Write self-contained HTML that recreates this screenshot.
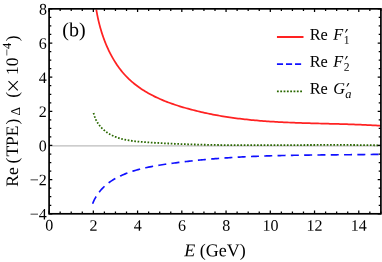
<!DOCTYPE html>
<html><head><meta charset="utf-8"><style>
html,body{margin:0;padding:0;background:#fff;}
svg{display:block;will-change:transform;text-rendering:geometricPrecision;font-family:"Liberation Serif",serif;}
</style></head><body>
<svg width="382" height="262" viewBox="0 0 382 262">
<rect width="382" height="262" fill="#fff"/>
<line x1="49.1" x2="380.9" y1="145.83" y2="145.83" stroke="#bcbcbc" stroke-width="1.3"/>
<g fill="none" stroke-width="2" stroke-linejoin="round">
<path d="M96.33,9.38 L96.60,10.99 L96.89,12.62 L97.19,14.25 L97.51,15.88 L97.86,17.52 L98.22,19.16 L98.59,20.80 L98.99,22.45 L99.40,24.10 L99.83,25.74 L100.29,27.39 L100.76,29.04 L101.25,30.68 L101.75,32.32 L102.28,33.96 L102.83,35.59 L103.40,37.22 L103.99,38.84 L104.59,40.46 L105.22,42.07 L105.87,43.67 L106.54,45.27 L107.23,46.85 L107.94,48.42 L108.67,49.99 L109.42,51.54 L110.20,53.08 L110.99,54.60 L111.81,56.12 L112.65,57.62 L113.51,59.10 L114.40,60.56 L115.30,62.01 L116.23,63.45 L117.18,64.86 L118.16,66.26 L119.16,67.63 L120.18,68.99 L121.22,70.32 L122.29,71.63 L123.38,72.92 L124.50,74.19 L125.64,75.43 L126.80,76.65 L127.99,77.84 L129.20,79.01 L130.43,80.15 L131.69,81.26 L132.97,82.35 L134.27,83.42 L135.59,84.47 L136.93,85.49 L138.29,86.49 L139.67,87.46 L141.06,88.42 L142.48,89.35 L143.90,90.26 L145.35,91.15 L146.81,92.01 L148.28,92.86 L149.77,93.69 L151.27,94.49 L152.79,95.28 L154.31,96.05 L155.85,96.80 L157.39,97.53 L158.95,98.24 L160.52,98.93 L162.09,99.61 L163.67,100.27 L165.26,100.91 L166.86,101.54 L168.46,102.15 L170.07,102.74 L171.68,103.32 L173.30,103.88 L174.92,104.43 L176.55,104.97 L178.18,105.49 L179.81,106.00 L181.45,106.50 L183.09,106.99 L184.74,107.47 L186.39,107.93 L188.04,108.39 L189.69,108.84 L191.34,109.28 L193.00,109.71 L194.65,110.13 L196.31,110.54 L197.97,110.95 L199.63,111.35 L201.29,111.74 L202.95,112.12 L204.62,112.49 L206.28,112.86 L207.95,113.21 L209.62,113.56 L211.29,113.89 L212.95,114.22 L214.63,114.54 L216.30,114.85 L217.97,115.16 L219.65,115.45 L221.32,115.74 L223.00,116.02 L224.68,116.29 L226.35,116.56 L228.03,116.82 L229.71,117.07 L231.40,117.31 L233.08,117.54 L234.76,117.77 L236.45,117.99 L238.13,118.21 L239.82,118.42 L241.50,118.62 L243.19,118.82 L244.88,119.01 L246.57,119.19 L248.26,119.37 L249.95,119.54 L251.64,119.71 L253.34,119.87 L255.03,120.03 L256.72,120.18 L258.42,120.32 L260.11,120.46 L261.81,120.60 L263.50,120.73 L265.20,120.85 L266.90,120.98 L268.60,121.09 L270.30,121.21 L271.99,121.32 L273.69,121.42 L275.39,121.52 L277.10,121.62 L278.80,121.71 L280.50,121.80 L282.20,121.89 L283.90,121.97 L285.60,122.05 L287.31,122.13 L289.01,122.20 L290.71,122.28 L292.42,122.35 L294.12,122.41 L295.83,122.48 L297.53,122.54 L299.24,122.60 L300.94,122.66 L302.65,122.71 L304.35,122.77 L306.06,122.82 L307.76,122.87 L309.47,122.92 L311.18,122.97 L312.88,123.02 L314.59,123.07 L316.29,123.11 L318.00,123.16 L319.71,123.20 L321.41,123.25 L323.12,123.29 L324.82,123.33 L326.53,123.38 L328.24,123.42 L329.94,123.47 L331.65,123.51 L333.35,123.55 L335.06,123.60 L336.76,123.65 L338.47,123.69 L340.17,123.74 L341.88,123.79 L343.58,123.84 L345.29,123.89 L346.99,123.94 L348.69,124.00 L350.39,124.05 L352.10,124.11 L353.80,124.17 L355.50,124.23 L357.20,124.30 L358.90,124.36 L360.60,124.43 L362.30,124.50 L364.00,124.58 L365.70,124.65 L367.40,124.73 L369.10,124.82 L370.80,124.90 L372.49,124.99 L374.19,125.08 L375.88,125.18 L377.58,125.28 L379.27,125.39 L380.97,125.49" stroke="#ff2222" stroke-width="1.75" transform="translate(0,0.3)"/>
<path d="M92.33,203.29 L92.96,201.75 L93.63,200.26 L94.34,198.81 L95.09,197.41 L95.89,196.05 L96.71,194.73 L97.58,193.45 L98.48,192.22 L99.41,191.02 L100.38,189.86 L101.38,188.74 L102.41,187.66 L103.46,186.61 L104.55,185.60 L105.66,184.62 L106.80,183.68 L107.97,182.76 L109.16,181.88 L110.37,181.03 L111.60,180.21 L112.86,179.42 L114.13,178.66 L115.42,177.93 L116.73,177.22 L118.05,176.54 L119.39,175.88 L120.75,175.25 L122.11,174.63 L123.49,174.05 L124.88,173.48 L126.28,172.93 L127.69,172.40 L129.10,171.89 L130.53,171.41 L131.96,170.93 L133.40,170.48 L134.85,170.04 L136.31,169.62 L137.77,169.22 L139.24,168.83 L140.72,168.45 L142.20,168.09 L143.69,167.74 L145.18,167.40 L146.68,167.08 L148.18,166.77 L149.68,166.47 L151.19,166.17 L152.70,165.89 L154.21,165.62 L155.73,165.35 L157.25,165.09 L158.77,164.84 L160.29,164.60 L161.81,164.36 L163.34,164.13 L164.86,163.90 L166.38,163.68 L167.91,163.46 L169.43,163.24 L170.95,163.03 L172.47,162.82 L173.99,162.61 L175.51,162.41 L177.03,162.21 L178.55,162.01 L180.07,161.82 L181.59,161.63 L183.11,161.45 L184.63,161.27 L186.15,161.09 L187.67,160.91 L189.19,160.74 L190.71,160.57 L192.22,160.41 L193.74,160.25 L195.26,160.09 L196.78,159.93 L198.29,159.78 L199.81,159.63 L201.33,159.48 L202.84,159.34 L204.36,159.20 L205.87,159.06 L207.39,158.92 L208.90,158.79 L210.42,158.66 L211.93,158.54 L213.45,158.41 L214.96,158.29 L216.48,158.17 L217.99,158.06 L219.51,157.94 L221.02,157.83 L222.53,157.72 L224.05,157.62 L225.56,157.51 L227.08,157.41 L228.59,157.32 L230.10,157.22 L231.62,157.13 L233.13,157.03 L234.64,156.95 L236.15,156.86 L237.67,156.77 L239.18,156.69 L240.69,156.61 L242.21,156.53 L243.72,156.46 L245.23,156.38 L246.74,156.31 L248.26,156.24 L249.77,156.17 L251.28,156.11 L252.79,156.04 L254.31,155.98 L255.82,155.92 L257.33,155.86 L258.84,155.80 L260.36,155.75 L261.87,155.69 L263.38,155.64 L264.90,155.59 L266.41,155.54 L267.92,155.49 L269.43,155.45 L270.95,155.40 L272.46,155.36 L273.97,155.32 L275.49,155.28 L277.00,155.24 L278.51,155.20 L280.03,155.17 L281.54,155.13 L283.05,155.10 L284.57,155.06 L286.08,155.03 L287.60,155.00 L289.11,154.97 L290.62,154.94 L292.14,154.92 L293.65,154.89 L295.17,154.86 L296.68,154.84 L298.20,154.82 L299.71,154.79 L301.23,154.77 L302.75,154.75 L304.26,154.73 L305.78,154.71 L307.30,154.69 L308.81,154.67 L310.33,154.65 L311.85,154.64 L313.36,154.62 L314.88,154.60 L316.40,154.59 L317.92,154.57 L319.44,154.56 L320.95,154.54 L322.47,154.53 L323.99,154.52 L325.51,154.50 L327.03,154.49 L328.55,154.48 L330.07,154.46 L331.59,154.45 L333.12,154.44 L334.64,154.43 L336.16,154.41 L337.68,154.40 L339.20,154.39 L340.73,154.37 L342.25,154.36 L343.77,154.35 L345.30,154.34 L346.82,154.32 L348.35,154.31 L349.87,154.30 L351.40,154.28 L352.92,154.27 L354.45,154.25 L355.98,154.24 L357.50,154.22 L359.03,154.21 L360.56,154.19 L362.09,154.17 L363.62,154.16 L365.15,154.14 L366.68,154.12 L368.21,154.10 L369.74,154.08 L371.27,154.06 L372.80,154.04 L374.33,154.02 L375.87,153.99 L377.40,153.97 L378.93,153.94 L380.47,153.92" stroke="#1010ff" stroke-dasharray="8 5.3" stroke-width="1.65" transform="translate(0.3,0.4)"/>
<path d="M93.03,112.60 L93.50,114.28 L94.03,115.89 L94.62,117.43 L95.27,118.92 L95.98,120.34 L96.75,121.70 L97.57,123.00 L98.43,124.25 L99.35,125.43 L100.31,126.57 L101.31,127.65 L102.36,128.67 L103.44,129.65 L104.56,130.57 L105.71,131.44 L106.89,132.27 L108.10,133.05 L109.33,133.78 L110.59,134.47 L111.87,135.11 L113.17,135.71 L114.50,136.28 L115.84,136.80 L117.20,137.29 L118.58,137.74 L119.97,138.16 L121.38,138.55 L122.81,138.91 L124.25,139.24 L125.70,139.54 L127.16,139.82 L128.64,140.08 L130.12,140.31 L131.62,140.52 L133.12,140.72 L134.63,140.89 L136.14,141.06 L137.66,141.20 L139.19,141.34 L140.72,141.47 L142.25,141.59 L143.78,141.70 L145.31,141.80 L146.85,141.91 L148.38,142.01 L149.91,142.10 L151.44,142.20 L152.97,142.29 L154.50,142.39 L156.02,142.48 L157.55,142.56 L159.08,142.65 L160.60,142.73 L162.12,142.81 L163.65,142.89 L165.17,142.97 L166.69,143.04 L168.21,143.12 L169.73,143.19 L171.25,143.26 L172.77,143.32 L174.28,143.39 L175.80,143.45 L177.31,143.52 L178.83,143.58 L180.34,143.63 L181.85,143.69 L183.37,143.75 L184.88,143.80 L186.39,143.85 L187.90,143.90 L189.41,143.95 L190.92,144.00 L192.43,144.04 L193.93,144.08 L195.44,144.13 L196.95,144.17 L198.45,144.21 L199.96,144.24 L201.46,144.28 L202.96,144.32 L204.47,144.35 L205.97,144.38 L207.47,144.41 L208.97,144.44 L210.48,144.47 L211.98,144.50 L213.48,144.52 L214.98,144.55 L216.48,144.57 L217.98,144.59 L219.47,144.61 L220.97,144.63 L222.47,144.65 L223.97,144.67 L225.46,144.68 L226.96,144.70 L228.46,144.71 L229.95,144.73 L231.45,144.74 L232.94,144.75 L234.44,144.76 L235.93,144.77 L237.43,144.78 L238.92,144.79 L240.42,144.79 L241.91,144.80 L243.40,144.80 L244.90,144.81 L246.39,144.81 L247.88,144.82 L249.37,144.82 L250.87,144.82 L252.36,144.82 L253.85,144.82 L255.34,144.82 L256.84,144.82 L258.33,144.82 L259.82,144.82 L261.31,144.81 L262.80,144.81 L264.29,144.81 L265.79,144.80 L267.28,144.80 L268.77,144.80 L270.26,144.79 L271.75,144.79 L273.24,144.78 L274.74,144.77 L276.23,144.77 L277.72,144.76 L279.21,144.75 L280.70,144.75 L282.20,144.74 L283.69,144.73 L285.18,144.72 L286.67,144.72 L288.17,144.71 L289.66,144.70 L291.15,144.69 L292.65,144.68 L294.14,144.68 L295.63,144.67 L297.13,144.66 L298.62,144.65 L300.12,144.64 L301.61,144.64 L303.11,144.63 L304.60,144.62 L306.10,144.61 L307.59,144.61 L309.09,144.60 L310.59,144.59 L312.08,144.59 L313.58,144.58 L315.08,144.57 L316.58,144.57 L318.08,144.56 L319.58,144.56 L321.08,144.55 L322.58,144.55 L324.08,144.55 L325.58,144.54 L327.08,144.54 L328.58,144.54 L330.08,144.54 L331.59,144.54 L333.09,144.54 L334.60,144.54 L336.10,144.54 L337.61,144.54 L339.11,144.54 L340.62,144.54 L342.13,144.55 L343.63,144.55 L345.14,144.56 L346.65,144.56 L348.16,144.57 L349.67,144.57 L351.18,144.58 L352.70,144.59 L354.21,144.60 L355.72,144.61 L357.24,144.63 L358.75,144.64 L360.27,144.65 L361.78,144.67 L363.30,144.68 L364.82,144.70 L366.34,144.72 L367.86,144.74 L369.38,144.76 L370.90,144.78 L372.42,144.80 L373.95,144.83 L375.47,144.85 L377.00,144.88 L378.52,144.90 L380.05,144.93" stroke="#2a6800" stroke-dasharray="1.65 1.67" stroke-width="1.8" transform="translate(0.5,0.4)"/>
<path d="M276.95,37 H303.5" stroke="#ff2222"/>
<path d="M276.95,64.15 H301.2" stroke="#1010ff" stroke-dasharray="6.1 2.94" stroke-width="1.85"/>
<path d="M276.95,91.3 H302.1" stroke="#2a6800" stroke-dasharray="1.8 1.52" stroke-width="1.75"/>
</g>
<g stroke="#000" stroke-width="1.25" fill="none"><path d="M49.10,213.8 v-3.2 M49.10,8.85 v3.2"/><path d="M60.16,213.8 v-2.2 M60.16,8.85 v2.2"/><path d="M71.22,213.8 v-2.2 M71.22,8.85 v2.2"/><path d="M82.28,213.8 v-2.2 M82.28,8.85 v2.2"/><path d="M93.34,213.8 v-3.2 M93.34,8.85 v3.2"/><path d="M104.40,213.8 v-2.2 M104.40,8.85 v2.2"/><path d="M115.46,213.8 v-2.2 M115.46,8.85 v2.2"/><path d="M126.52,213.8 v-2.2 M126.52,8.85 v2.2"/><path d="M137.58,213.8 v-3.2 M137.58,8.85 v3.2"/><path d="M148.64,213.8 v-2.2 M148.64,8.85 v2.2"/><path d="M159.70,213.8 v-2.2 M159.70,8.85 v2.2"/><path d="M170.76,213.8 v-2.2 M170.76,8.85 v2.2"/><path d="M181.82,213.8 v-3.2 M181.82,8.85 v3.2"/><path d="M192.88,213.8 v-2.2 M192.88,8.85 v2.2"/><path d="M203.94,213.8 v-2.2 M203.94,8.85 v2.2"/><path d="M215.00,213.8 v-2.2 M215.00,8.85 v2.2"/><path d="M226.06,213.8 v-3.2 M226.06,8.85 v3.2"/><path d="M237.12,213.8 v-2.2 M237.12,8.85 v2.2"/><path d="M248.18,213.8 v-2.2 M248.18,8.85 v2.2"/><path d="M259.24,213.8 v-2.2 M259.24,8.85 v2.2"/><path d="M270.30,213.8 v-3.2 M270.30,8.85 v3.2"/><path d="M281.36,213.8 v-2.2 M281.36,8.85 v2.2"/><path d="M292.42,213.8 v-2.2 M292.42,8.85 v2.2"/><path d="M303.48,213.8 v-2.2 M303.48,8.85 v2.2"/><path d="M314.54,213.8 v-3.2 M314.54,8.85 v3.2"/><path d="M325.60,213.8 v-2.2 M325.60,8.85 v2.2"/><path d="M336.66,213.8 v-2.2 M336.66,8.85 v2.2"/><path d="M347.72,213.8 v-2.2 M347.72,8.85 v2.2"/><path d="M358.78,213.8 v-3.2 M358.78,8.85 v3.2"/><path d="M369.84,213.8 v-2.2 M369.84,8.85 v2.2"/><path d="M380.90,213.8 v-2.2 M380.90,8.85 v2.2"/><path d="M49.1,213.80 h3.2 M380.9,213.80 h-3.2"/><path d="M49.1,205.26 h2.2 M380.9,205.26 h-2.2"/><path d="M49.1,196.72 h2.2 M380.9,196.72 h-2.2"/><path d="M49.1,188.18 h2.2 M380.9,188.18 h-2.2"/><path d="M49.1,179.64 h3.2 M380.9,179.64 h-3.2"/><path d="M49.1,171.10 h2.2 M380.9,171.10 h-2.2"/><path d="M49.1,162.56 h2.2 M380.9,162.56 h-2.2"/><path d="M49.1,154.02 h2.2 M380.9,154.02 h-2.2"/><path d="M49.1,145.48 h3.2 M380.9,145.48 h-3.2"/><path d="M49.1,136.94 h2.2 M380.9,136.94 h-2.2"/><path d="M49.1,128.40 h2.2 M380.9,128.40 h-2.2"/><path d="M49.1,119.86 h2.2 M380.9,119.86 h-2.2"/><path d="M49.1,111.32 h3.2 M380.9,111.32 h-3.2"/><path d="M49.1,102.79 h2.2 M380.9,102.79 h-2.2"/><path d="M49.1,94.25 h2.2 M380.9,94.25 h-2.2"/><path d="M49.1,85.71 h2.2 M380.9,85.71 h-2.2"/><path d="M49.1,77.17 h3.2 M380.9,77.17 h-3.2"/><path d="M49.1,68.63 h2.2 M380.9,68.63 h-2.2"/><path d="M49.1,60.09 h2.2 M380.9,60.09 h-2.2"/><path d="M49.1,51.55 h2.2 M380.9,51.55 h-2.2"/><path d="M49.1,43.01 h3.2 M380.9,43.01 h-3.2"/><path d="M49.1,34.47 h2.2 M380.9,34.47 h-2.2"/><path d="M49.1,25.93 h2.2 M380.9,25.93 h-2.2"/><path d="M49.1,17.39 h2.2 M380.9,17.39 h-2.2"/><path d="M49.1,8.85 h3.2 M380.9,8.85 h-3.2"/></g>
<rect x="49.1" y="8.85" width="331.80" height="204.95" fill="none" stroke="#000" stroke-width="1.7"/>
<g transform="rotate(0.03)">
<g font-size="16px" fill="#000"><text x="49.30" y="230.6" text-anchor="middle">0</text><text x="93.54" y="230.6" text-anchor="middle">2</text><text x="137.78" y="230.6" text-anchor="middle">4</text><text x="182.02" y="230.6" text-anchor="middle">6</text><text x="226.26" y="230.6" text-anchor="middle">8</text><text x="270.50" y="230.6" text-anchor="middle">10</text><text x="314.74" y="230.6" text-anchor="middle">12</text><text x="358.98" y="230.6" text-anchor="middle">14</text><text x="46.9" y="219.50" text-anchor="end">−4</text><text x="46.9" y="185.34" text-anchor="end">−2</text><text x="46.9" y="151.18" text-anchor="end">0</text><text x="46.9" y="117.02" text-anchor="end">2</text><text x="46.9" y="82.87" text-anchor="end">4</text><text x="46.9" y="48.71" text-anchor="end">6</text><text x="46.9" y="14.55" text-anchor="end">8</text></g>
<g font-size="16.3px" fill="#000">
<text x="309.7" y="39.6">Re</text><text x="333.3" y="39.6" font-style="italic">F</text><path d="M346.6,28.700000000000003 L348.0,29.1 L345.6,32.5 L345.0,32.2 Z" fill="#000" stroke="none"/><text x="343.9" y="43.7" font-size="11.6px">1</text><text x="309.7" y="66.6">Re</text><text x="333.3" y="66.6" font-style="italic">F</text><path d="M346.6,55.699999999999996 L348.0,56.099999999999994 L345.6,59.49999999999999 L345.0,59.199999999999996 Z" fill="#000" stroke="none"/><text x="343.9" y="70.69999999999999" font-size="11.6px">2</text><text x="309.7" y="93.7">Re</text><text x="333.3" y="93.7" font-style="italic">G</text><path d="M348.1,82.8 L349.5,83.2 L347.1,86.60000000000001 L346.5,86.3 Z" fill="#000" stroke="none"/><text x="345.4" y="97.8" font-size="12.5px" font-style="italic">a</text>
<text x="62.4" y="36.2" font-size="20px">(b)</text>
</g>
<text x="184.3" y="256.2" font-size="18px"><tspan font-style="italic">E</tspan> (GeV)</text>
</g>
<path d="M8.5,81.1 L17.8,90.4 M17.8,81.1 L8.5,90.4" stroke="#000" stroke-width="1.05" fill="none"/>
<g transform="translate(18.2,0) rotate(-90)" font-size="17.5px">
<text x="-186.8" y="0">Re</text>
<text x="-163.5" y="0">(</text>
<text x="-156.6" y="0">TPE</text>
<text x="-124.5" y="0">)</text>
<text x="-115.5" y="2.2" font-size="13.4px">Δ</text>
<text x="-97.7" y="0">(</text>
<text x="-74.9" y="0">10</text>
<text x="-56.1" y="-7.5" font-size="12.4px">−4</text>
<text x="-41.2" y="0">)</text>
</g>
</svg>
</body></html>
